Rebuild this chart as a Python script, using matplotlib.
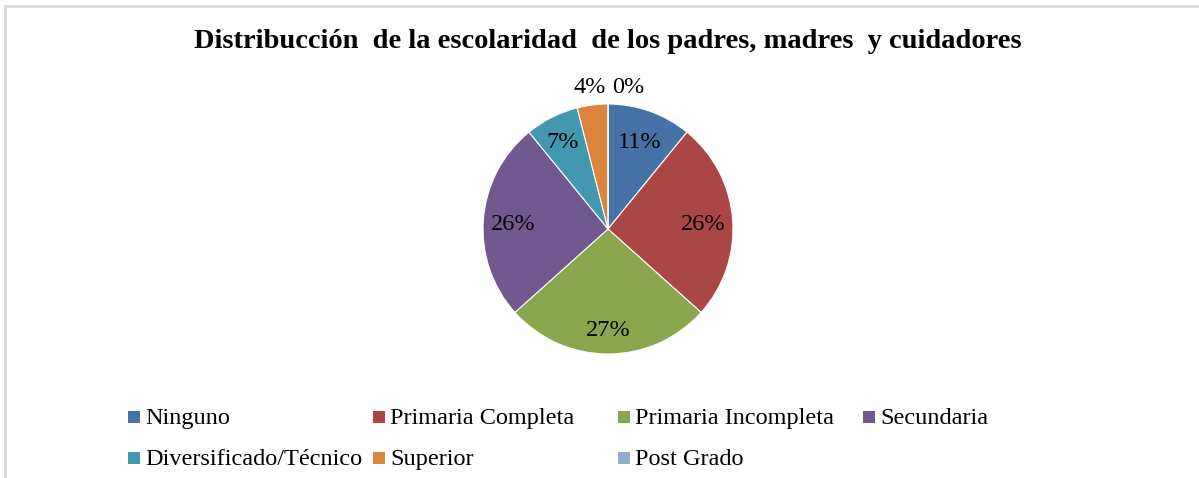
import numpy as np
import matplotlib.pyplot as plt
from matplotlib.patches import Rectangle

# --- datos ---
categorias = ["Ninguno", "Primaria Completa", "Primaria Incompleta", "Secundaria",
              "Diversificado/Técnico", "Superior", "Post Grado"]
porcentajes = [11, 26, 27, 26, 7, 4, 0]
colores = ["#4572A7", "#AA4643", "#89A54E", "#71588F", "#4198AF", "#DB843D", "#93A9CF"]
titulo = "Distribucción  de la escolaridad  de los padres, madres  y cuidadores"

plt.rcParams['font.family'] = ['Liberation Serif', 'DejaVu Serif']

W, H = 1199, 478
fig = plt.figure(figsize=(W / 100, H / 100), dpi=100)

# borde gris del área del gráfico
fig.patches.append(Rectangle((5 / W, -0.1), 1.2, 1 - 6 / H + 0.1,
                             transform=fig.transFigure, fill=False,
                             edgecolor="#d9d9d9", linewidth=2))

fig.text(608 / W, 1 - 42 / H, titulo, ha="center", va="center",
         fontsize=20.5, fontweight="bold")

# pie: centro (608,229), radio ~125 px
cx, cy, r_px = 608, 229, 125
ax = fig.add_axes([(cx - r_px) / W, 1 - (cy + r_px) / H,
                   2 * r_px / W, 2 * r_px / H])
wedges, _ = ax.pie(porcentajes, colors=colores, startangle=90, counterclock=False,
                   radius=1, wedgeprops=dict(edgecolor="white", linewidth=0.8))
ax.set_xlim(-1, 1)
ax.set_ylim(-1, 1)
ax.set_aspect("equal")
ax.axis("off")

# posiciones de etiquetas (fracción del radio)
dist = [0.76, 0.76, 0.79, 0.76, 0.8, 1.16, 1.15]
ha_list = ["center", "center", "center", "center", "center", "center", "left"]
for w, v, d, ha in zip(wedges, porcentajes, dist, ha_list):
    ang = np.deg2rad((w.theta1 + w.theta2) / 2)
    x, y = d * np.cos(ang), d * np.sin(ang)
    if ha == "left":
        x += 0.03
    ax.text(x, y, f"{v}%", ha=ha, va="center_baseline", fontsize=17.5, clip_on=False)

# leyenda estilo Excel: 4 columnas de ancho fijo
for i, (cat, c) in enumerate(zip(categorias, colores)):
    fila, col = divmod(i, 4)
    px = 128 + 245 * col
    base = 424 + 41 * fila
    fig.patches.append(Rectangle((px / W, 1 - (base - 1) / H), 12 / W, 12 / H,
                                 transform=fig.transFigure, facecolor=c, edgecolor="none"))
    fig.text((px + 17) / W, 1 - base / H, cat, ha="left", va="baseline", fontsize=17.5)

fig.savefig("out.png", dpi=100)
